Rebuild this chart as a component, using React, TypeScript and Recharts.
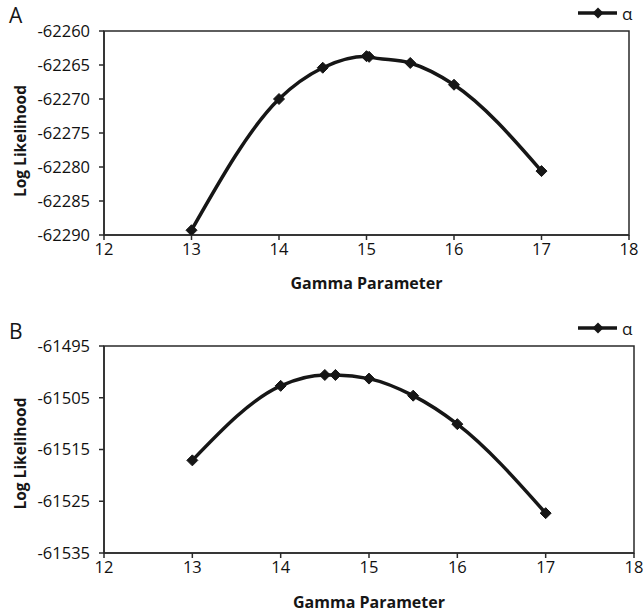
import React from "react";
import { LineChart, Line, XAxis, YAxis, ReferenceArea, Label } from "recharts";

const gammaTicks = [12, 13, 14, 15, 16, 17, 18];

const gammaA = [13, 14, 14.5, 15, 15.03, 15.5, 16, 17];
const logLikA = [-62289.3, -62270.0, -62265.4, -62263.7, -62263.8, -62264.7, -62267.9, -62280.6];
const yTicksA = [-62290, -62285, -62280, -62275, -62270, -62265, -62260];

const gammaB = [13, 14, 14.5, 14.62, 15, 15.5, 16, 17];
const logLikB = [-61517.1, -61502.7, -61500.6, -61500.6, -61501.3, -61504.6, -61510.1, -61527.3];
const yTicksB = [-61535, -61525, -61515, -61505, -61495];

const FONT = "'Open Sans', sans-serif";
const INK = "#161616";
const AXIS = "#2a2a2a";

const toRows = (xs: number[], ys: number[]) => xs.map((g, i) => ({ gamma: g, ll: ys[i] }));

const Diamond = (props: any) => {
  const { cx, cy, index } = props;
  if (cx == null || cy == null) return null;
  const r = 5.5;
  return (
    <polygon
      key={`d-${index}`}
      points={`${cx},${cy - r} ${cx + r},${cy} ${cx},${cy + r} ${cx - r},${cy}`}
      fill={INK}
      stroke={INK}
      strokeWidth={1}
    />
  );
};

const YTitle = ({ viewBox, dy }: any) => {
  const cx = 20;
  const cy = viewBox.y + viewBox.height / 2 + dy;
  return (
    <text
      x={cx}
      y={cy}
      transform={`rotate(-90, ${cx}, ${cy})`}
      textAnchor="middle"
      dominantBaseline="central"
      fontFamily={FONT}
      fontWeight={700}
      fontSize={15.5}
      fill={INK}
    >
      Log Likelihood
    </text>
  );
};

type PanelProps = {
  rows: { gamma: number; ll: number }[];
  yTicks: number[];
  width: number;
  height: number;
  margin: { top: number; right: number; bottom: number; left: number };
  titleDy: number;
  xTitleOffset: number;
};

const Panel = ({ rows, yTicks, width, height, margin, titleDy, xTitleOffset }: PanelProps) => {
  const yMin = yTicks[0];
  const yMax = yTicks[yTicks.length - 1];
  const tickStyle = { fontFamily: FONT, fontSize: 16.5, fill: "#111" };
  return (
    <LineChart width={width} height={height} data={rows} margin={margin}>
      <XAxis
        type="number"
        dataKey="gamma"
        domain={[12, 18]}
        ticks={gammaTicks}
        allowDataOverflow
        height={30}
        tickSize={5}
        tickMargin={3}
        stroke={AXIS}
        strokeWidth={1.5}
        tick={tickStyle}
      >
        <Label
          value="Gamma Parameter"
          position="bottom"
          offset={xTitleOffset}
          style={{ fontFamily: FONT, fontWeight: 700, fontSize: 16, fill: INK }}
        />
      </XAxis>
      <YAxis
        type="number"
        domain={[yMin, yMax]}
        ticks={yTicks}
        allowDataOverflow
        width={104}
        tickSize={5}
        tickMargin={9}
        stroke={AXIS}
        strokeWidth={1.5}
        tick={tickStyle}
      >
        <Label content={(p: any) => <YTitle {...p} dy={titleDy} />} />
      </YAxis>
      <ReferenceArea
        x1={12}
        x2={18}
        y1={yMin}
        y2={yMax}
        fill="none"
        stroke={AXIS}
        strokeWidth={1.5}
      />
      <Line
        type="monotone"
        dataKey="ll"
        stroke={INK}
        strokeWidth={3.5}
        dot={Diamond}
        activeDot={false}
        isAnimationActive={false}
      />
    </LineChart>
  );
};

const LegendMark = ({ y }: { y: number }) => (
  <g>
    <line x1={578} x2={617} y1={y} y2={y} stroke={INK} strokeWidth={3.5} />
    <polygon points={`${598},${y - 5.5} ${603.5},${y} ${598},${y + 5.5} ${592.5},${y}`} fill={INK} />
    <text x={622} y={y} dominantBaseline="central" fontFamily={FONT} fontSize={17} fill={INK}>
      α
    </text>
  </g>
);

export default function App() {
  return (
    <div
      style={{
        position: "absolute",
        left: 0,
        top: 0,
        width: 643,
        height: 615,
        overflow: "hidden",
        background: "#fff",
      }}
    >
      <div style={{ position: "absolute", left: 0, top: 0 }}>
        <Panel
          rows={toRows(gammaA, logLikA)}
          yTicks={yTicksA}
          width={643}
          height={300}
          margin={{ top: 31, right: 14, bottom: 35, left: 0 }}
          titleDy={8}
          xTitleOffset={13}
        />
      </div>
      <div style={{ position: "absolute", left: 0, top: 300 }}>
        <Panel
          rows={toRows(gammaB, logLikB)}
          yTicks={yTicksB}
          width={643}
          height={315}
          margin={{ top: 46, right: 9, bottom: 32, left: 0 }}
          titleDy={4}
          xTitleOffset={14}
        />
      </div>
      <svg
        width={643}
        height={615}
        style={{ position: "absolute", left: 0, top: 0, pointerEvents: "none" }}
      >
        <text x={9} y={23} fontFamily={FONT} fontSize={21} fill={INK}>
          A
        </text>
        <text x={9} y={339} fontFamily={FONT} fontSize={21} fill={INK}>
          B
        </text>
        <LegendMark y={13} />
        <LegendMark y={328} />
      </svg>
    </div>
  );
}
